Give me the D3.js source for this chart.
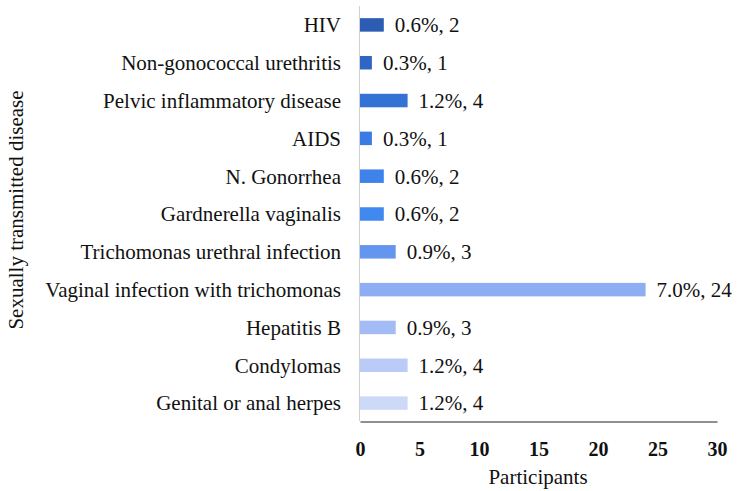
<!DOCTYPE html>
<html>
<head>
<meta charset="utf-8">
<script src="https://cdn.jsdelivr.net/npm/d3@7"></script>
<style>
  body { margin: 0; background: #fff; }
  text { font-family: "Liberation Serif", "Times New Roman", serif; fill: #111; }
</style>
</head>
<body>
<script>
// data
var diseases = ["HIV", "Non-gonococcal urethritis", "Pelvic inflammatory disease", "AIDS",
  "N. Gonorrhea", "Gardnerella vaginalis", "Trichomonas urethral infection",
  "Vaginal infection with trichomonas", "Hepatitis B", "Condylomas", "Genital or anal herpes"];
var counts = [2, 1, 4, 1, 2, 2, 3, 24, 3, 4, 4];
var percents = ["0.6%", "0.3%", "1.2%", "0.3%", "0.6%", "0.6%", "0.9%", "7.0%", "0.9%", "1.2%", "1.2%"];
var barColors = ["#2c5db3", "#2f66c6", "#3572d6", "#3a7ce4", "#3e83ea", "#4189ee", "#6496ef",
  "#8eaef4", "#a3bcf5", "#b9cbf6", "#ccd9f7"];
var xTicks = [0, 5, 10, 15, 20, 25, 30];

var width = 750, height = 491;

var svg = d3.select("body")
    .append("svg")
    .attr("width", width)
    .attr("height", height);

// scales
var xscale = d3.scaleLinear()
    .domain([0, 30])
    .range([360, 717]);

var yscale = d3.scaleBand()
    .domain(diseases)
    .range([6, 422]);

var barH = 13.5;

// vertical axis line
svg.append("line")
    .attr("x1", 359.5).attr("x2", 359.5)
    .attr("y1", 6).attr("y2", 421)
    .style("stroke", "#d0d0d0")
    .style("stroke-width", 1);

// bars
svg.selectAll(".bar")
    .data(diseases)
    .enter()
    .append("rect")
    .attr("class", "bar")
    .attr("x", xscale(0))
    .attr("y", function(d) { return yscale(d) + yscale.bandwidth() / 2 - barH / 2; })
    .attr("width", function(d, i) { return xscale(counts[i]) - xscale(0); })
    .attr("height", barH)
    .style("fill", function(d, i) { return barColors[i]; });

// value labels
svg.selectAll(".val")
    .data(diseases)
    .enter()
    .append("text")
    .attr("class", "val")
    .attr("x", function(d, i) { return xscale(counts[i]) + 11; })
    .attr("y", function(d) { return yscale(d) + yscale.bandwidth() / 2; })
    .attr("dy", "0.35em")
    .style("font-size", "21px")
    .text(function(d, i) { return percents[i] + ", " + counts[i]; });

// category labels
svg.selectAll(".cat")
    .data(diseases)
    .enter()
    .append("text")
    .attr("class", "cat")
    .attr("x", 341)
    .attr("y", function(d) { return yscale(d) + yscale.bandwidth() / 2; })
    .attr("dy", "0.35em")
    .attr("text-anchor", "end")
    .style("font-size", "21px")
    .text(function(d) { return d; });

// x axis
var xaxis = d3.axisBottom(xscale)
    .tickValues(xTicks)
    .tickSize(0)
    .tickPadding(20);

var gx = svg.append("g")
    .attr("transform", "translate(0," + 421.5 + ")")
    .call(xaxis);
gx.select(".domain").style("stroke", "#222").style("stroke-width", 1.2);
gx.selectAll("text")
    .style("font-family", "'Liberation Serif', serif")
    .style("font-size", "20px")
    .style("font-weight", "bold")
    .style("fill", "#111");

// axis titles
svg.append("text")
    .attr("x", 538)
    .attr("y", 484)
    .attr("text-anchor", "middle")
    .style("font-size", "21px")
    .text("Participants");

svg.append("text")
    .attr("transform", "translate(23,210) rotate(-90)")
    .attr("text-anchor", "middle")
    .style("font-size", "21px")
    .text("Sexually transmitted disease");
</script>
</body>
</html>
